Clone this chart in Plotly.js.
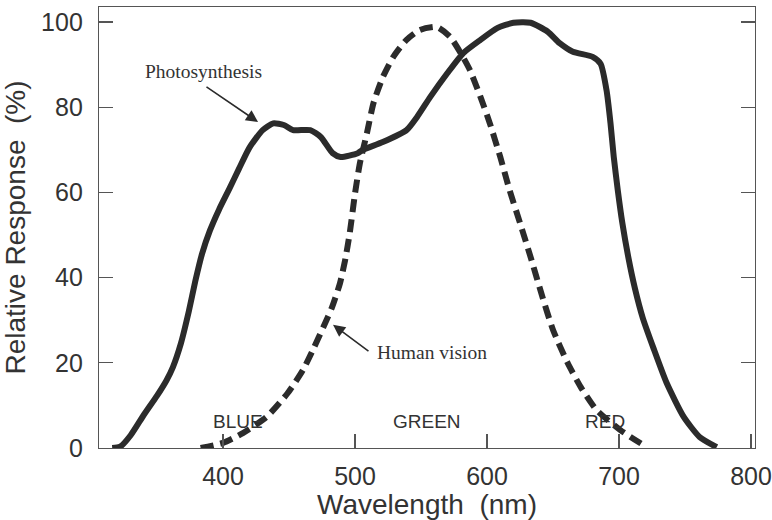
<!DOCTYPE html>
<html>
<head>
<meta charset="utf-8">
<script src="https://cdn.plot.ly/plotly-3.0.1.min.js"></script>
<style>html,body{margin:0;padding:0;background:#fff;}#chart{width:772px;height:520px;}</style>
</head>
<body>
<div id="chart"></div>
<script>
// Photosynthesis relative response (solid curve)
const photoWavelength = [316, 322, 330, 340, 350, 357, 362, 368, 374, 379, 384, 390, 397, 405, 412, 420, 430, 438, 446, 453, 466, 474, 483, 489, 502, 506, 521, 539, 547, 557, 570, 582, 595, 608, 620, 633, 646, 655, 665, 680, 686, 690.5, 693.5, 696, 699, 702.5, 707, 712, 718, 726, 736, 749, 761, 774];
const photoResponse   = [0, 0.3, 3, 7.8, 12.3, 15.8, 19, 24.5, 32, 39.2, 45.5, 51, 56, 61, 65.5, 70.5, 74.6, 76.2, 75.8, 74.6, 74.6, 73, 69.2, 68.3, 69.2, 70, 71.8, 74.6, 77.7, 82.4, 88, 92.7, 95.8, 98.6, 99.8, 99.8, 97.7, 95, 93, 91.8, 90.2, 84, 76.3, 68.3, 60.6, 52.8, 44.8, 37.5, 30.5, 23.5, 15.3, 7.3, 2.6, 0.2];

// Human vision relative response (dashed curve)
const visionWavelength = [383, 400, 415, 433, 449, 460.5, 468, 476, 482.5, 488.6, 492.4, 496, 500, 503.7, 509, 514, 521, 529, 539, 549, 562, 572, 580, 587, 595, 602, 610, 617, 625, 633, 642, 650, 661, 671, 683, 701, 721];
const visionResponse   = [0, 1.2, 3.5, 7.3, 12.9, 18.3, 23, 28.4, 33, 38.7, 44, 50.5, 59.8, 66.9, 73.9, 81, 87, 91.8, 95.8, 98.1, 98.8, 96.5, 92.7, 88.7, 82.4, 76.3, 68.3, 60.6, 52.8, 44.8, 35.4, 27.7, 20, 14.3, 8.9, 4.2, 0.2];

const xTickVals = [400, 500, 600, 700, 800];
const yTickVals = [0, 20, 40, 60, 80, 100];
const bandLabels = ["BLUE", "GREEN", "RED"];
const bandCenters = [411, 554.5, 689];

const ink = "#2b2b2b";
const textCol = "#333333";
const sans = "Liberation Sans, Arial, Helvetica, sans-serif";
const serif = "Liberation Serif, Times New Roman, serif";

const traces = [
  {x: photoWavelength, y: photoResponse, mode: "lines", type: "scatter",
   line: {color: ink, width: 6, shape: "spline", smoothing: 0.6}, hoverinfo: "skip"},
  {x: visionWavelength, y: visionResponse, mode: "lines", type: "scatter",
   line: {color: ink, width: 6, dash: "13px,7px", shape: "spline", smoothing: 0.6}, hoverinfo: "skip"}
];

const annotations = [];
bandLabels.forEach((t, i) => annotations.push({
  x: bandCenters[i], y: 6.3, xref: "x", yref: "y", text: t, showarrow: false,
  font: {family: sans, size: 19, color: textCol}
}));
annotations.push({x: 300, y: 0, xref: "x", yref: "y", text: "300", showarrow: false,
  yanchor: "top", yshift: -12, font: {family: sans, size: 25, color: textCol}});
// arrows
annotations.push({x: 426.5, y: 76.5, ax: 386.3, ay: 85, xref: "x", yref: "y", axref: "x", ayref: "y",
  text: "", showarrow: true, arrowhead: 2, arrowsize: 1.5, arrowwidth: 1.6, arrowcolor: ink});
annotations.push({x: 483.3, y: 28.9, ax: 511.3, ay: 22.5, xref: "x", yref: "y", axref: "x", ayref: "y",
  text: "", showarrow: true, arrowhead: 2, arrowsize: 1.5, arrowwidth: 1.6, arrowcolor: ink});
annotations.push({x: 385.5, y: 88.3, xref: "x", yref: "y", text: "Photosynthesis", showarrow: false,
  font: {family: serif, size: 19.5, color: textCol}});
annotations.push({x: 515, y: 22.3, xref: "x", yref: "y", text: "Human vision", showarrow: false,
  xanchor: "left", font: {family: serif, size: 19.5, color: textCol}});

const layout = {
  width: 772, height: 520,
  margin: {l: 99, r: 17, t: 7, b: 72},
  paper_bgcolor: "#ffffff", plot_bgcolor: "#ffffff",
  showlegend: false,
  font: {family: sans, color: textCol},
  xaxis: {
    range: [306, 803], tickvals: xTickVals, ticktext: xTickVals.map(String),
    ticks: "inside", ticklen: 14, tickwidth: 1.2, tickcolor: "#555",
    showline: true, linecolor: "#555", linewidth: 1.2, mirror: true,
    showgrid: false, zeroline: false, ticklabelstandoff: 6,
    tickfont: {family: sans, size: 25, color: textCol},
    title: {text: "Wavelength  (nm)", font: {family: sans, size: 28, color: textCol}, standoff: 4}
  },
  yaxis: {
    range: [0, 103.5], tickvals: yTickVals,
    ticks: "inside", ticklen: 14, tickwidth: 1.2, tickcolor: "#555",
    showline: true, linecolor: "#555", linewidth: 1.2, mirror: "ticks",
    showgrid: false, zeroline: false, ticklabelstandoff: 10,
    tickfont: {family: sans, size: 25, color: textCol},
    title: {text: "Relative Response  (%)", font: {family: sans, size: 28, color: textCol}, standoff: 10}
  },
  annotations: annotations
};

Plotly.newPlot("chart", traces, layout, {displayModeBar: false, staticPlot: true});
</script>
</body>
</html>
